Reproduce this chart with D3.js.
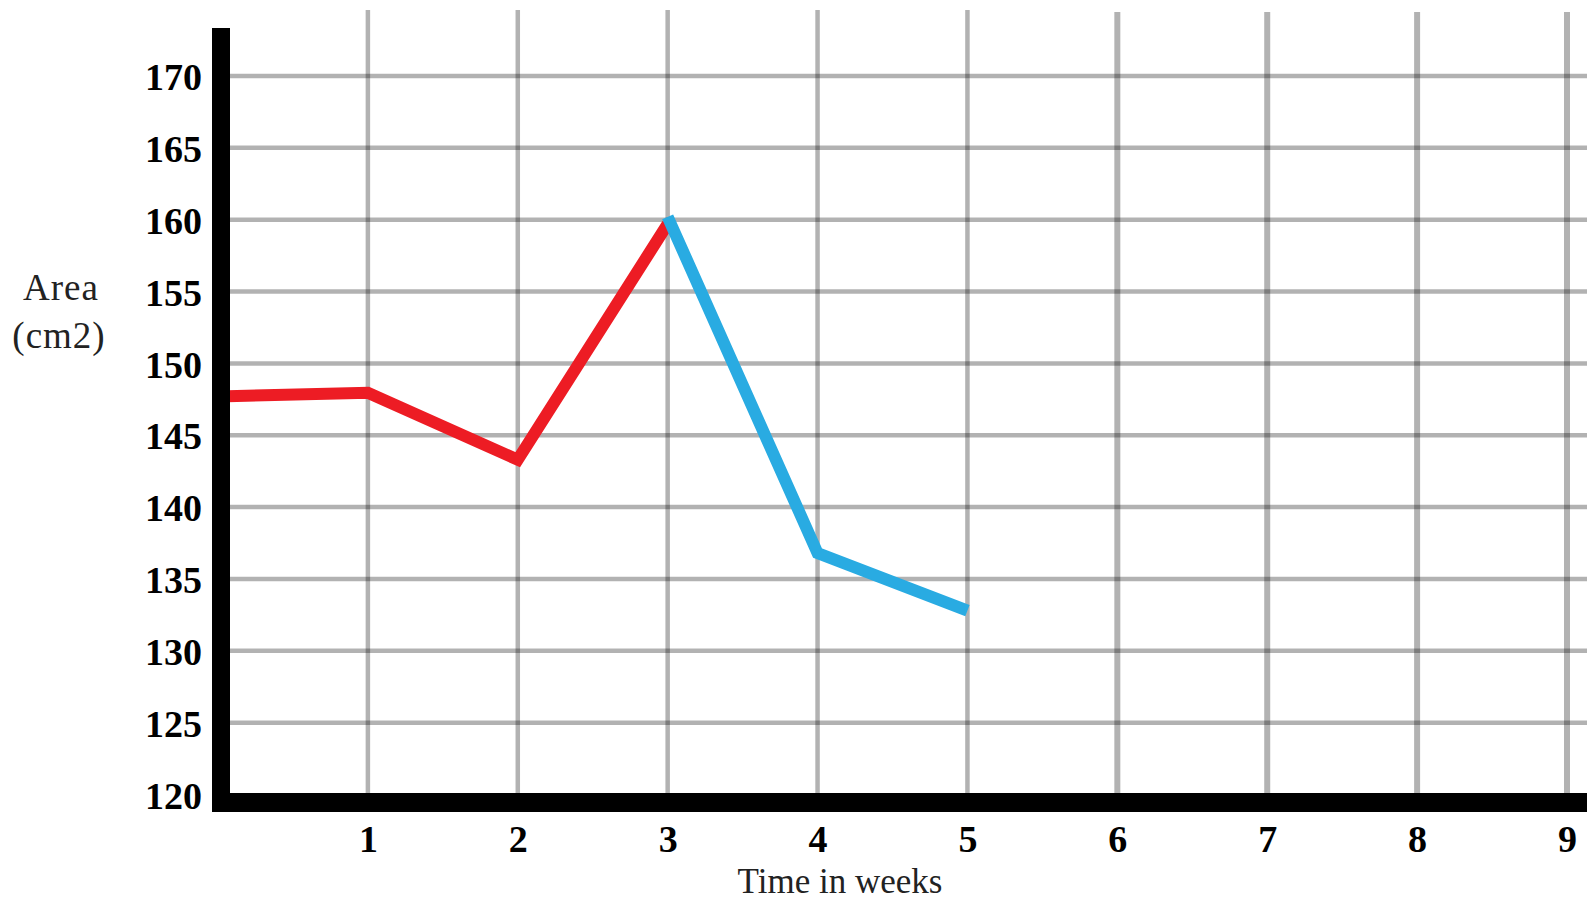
<!DOCTYPE html>
<html><head><meta charset="utf-8">
<script src="https://cdn.jsdelivr.net/npm/d3@7"></script>
<style>body{margin:0;background:#fff}svg{display:block}</style>
</head><body><svg id="c" width="1596" height="902"></svg>
<script>
// ---- data ----
const xTickValues = [1, 2, 3, 4, 5, 6, 7, 8, 9];
const yTickValues = [120, 125, 130, 135, 140, 145, 150, 155, 160, 165, 170];
const redWeeks = [0, 1, 2, 3];
const redArea = [147.7, 147.95, 143.3, 159.7];
const blueWeeks = [3, 4, 5];
const blueArea = [160.2, 136.8, 132.8];
const yTitle = ["Area", "(cm2)"];
const xTitle = "Time in weeks";

// ---- layout ----
const svg = d3.select("#c");
const x = d3.scaleLinear().domain([0, 9]).range([218, 1567]);
const y = d3.scaleLinear().domain([120, 170]).range([794.5, 76]);
const axisLeftX = 212, axisBarW = 18, axisBottomY = 793, axisBarH = 19;
const gridRight = 1587;
const serif = "'Liberation Serif','Times New Roman',serif";

// gridlines
const grid = svg.append("g");
grid.selectAll("line.h").data(yTickValues.filter(d => d > 120)).join("line")
  .attr("x1", axisLeftX + axisBarW).attr("x2", gridRight)
  .attr("y1", d => y(d)).attr("y2", d => y(d))
  .attr("stroke", "#000").attr("stroke-opacity", 0.3).attr("stroke-width", 4.5);
grid.selectAll("line.v").data(xTickValues).join("line")
  .attr("x1", d => x(d)).attr("x2", d => x(d))
  .attr("y1", d => d <= 5 ? 10 : 12).attr("y2", axisBottomY)
  .attr("stroke", "#000").attr("stroke-opacity", 0.3).attr("stroke-width", d => d <= 5 ? 4.5 : 6);

// data lines
const line = d3.line().x(d => x(d[0])).y(d => y(d[1]));
svg.append("path").datum(redWeeks.map((w, i) => [w, redArea[i]]))
  .attr("d", line).attr("fill", "none").attr("stroke", "#ed1c24")
  .attr("stroke-width", 12).attr("stroke-linejoin", "miter");
svg.append("path").datum(blueWeeks.map((w, i) => [w, blueArea[i]]))
  .attr("d", line).attr("fill", "none").attr("stroke", "#29abe2")
  .attr("stroke-width", 12).attr("stroke-linejoin", "miter");

// axis bars
svg.append("rect").attr("x", axisLeftX).attr("y", 28)
  .attr("width", axisBarW).attr("height", axisBottomY + axisBarH - 28).attr("fill", "#000");
svg.append("rect").attr("x", axisLeftX).attr("y", axisBottomY)
  .attr("width", gridRight - axisLeftX).attr("height", axisBarH).attr("fill", "#000");

// tick labels
const yAxis = svg.append("g").attr("transform", `translate(${axisLeftX},0)`)
  .call(d3.axisLeft(y).tickValues(yTickValues).tickSize(0).tickPadding(10).tickFormat(d3.format("d")));
yAxis.select(".domain").remove();
yAxis.selectAll("text").attr("font-family", serif).attr("font-weight", "bold")
  .attr("font-size", 38).attr("fill", "#000").attr("dy", "0.36em");

const xAxis = svg.append("g").attr("transform", `translate(0,${axisBottomY + axisBarH})`)
  .call(d3.axisBottom(x).tickValues(xTickValues).tickSize(0).tickPadding(13).tickFormat(d3.format("d")));
xAxis.select(".domain").remove();
xAxis.selectAll("text").attr("font-family", serif).attr("font-weight", "bold")
  .attr("font-size", 38).attr("fill", "#000");

// titles
svg.append("text").attr("x", 61).attr("y", 300).attr("text-anchor", "middle")
  .attr("font-family", serif).attr("font-size", 37).attr("letter-spacing", 1).attr("fill", "#222").text(yTitle[0]);
svg.append("text").attr("x", 59).attr("y", 348).attr("text-anchor", "middle")
  .attr("font-family", serif).attr("font-size", 37).attr("letter-spacing", 1).attr("fill", "#222").text(yTitle[1]);
svg.append("text").attr("x", 840).attr("y", 893).attr("text-anchor", "middle")
  .attr("font-family", serif).attr("font-size", 35).attr("fill", "#222").text(xTitle);
</script>
</body></html>
